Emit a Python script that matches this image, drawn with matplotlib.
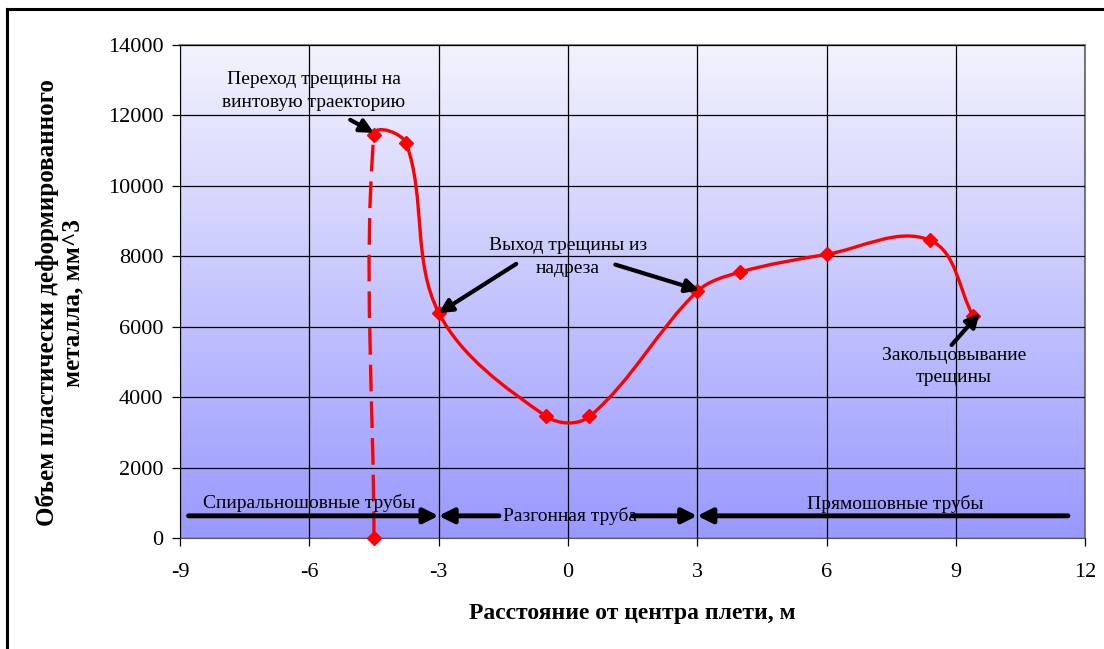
import numpy as np
import matplotlib
matplotlib.use("Agg")
import matplotlib.pyplot as plt
from matplotlib.path import Path
from matplotlib.patches import PathPatch
from matplotlib.colors import LinearSegmentedColormap

plt.rcParams["font.family"] = ["Liberation Serif", "DejaVu Serif"]
plt.rcParams["axes.unicode_minus"] = False

# ── data ──────────────────────────────────────────────────────────────────────
x_pts = [-4.5, -4.5, -3.75, -3.0, -0.5, 0.5, 3.0, 4.0, 6.0, 8.4, 9.4]
y_pts = [0, 11450, 11200, 6400, 3450, 3450, 7000, 7550, 8050, 8450, 6300]

zones = ["Спиральношовные трубы", "Разгонная труба", "Прямошовные трубы"]
zone_bounds = [-3.0, 3.0]
zone_y = 630

notes = ["Переход трещины на\nвинтовую траекторию",
         "Выход трещины из\nнадреза",
         "Закольцовывание\nтрещины"]

RED = "#FF0000"


def smooth_segments(ax, xs, ys):
    # Excel-like smoothed line: cubic Bezier pieces, tangent along (next - prev),
    # control distance = 1/3 of the segment length, worked out in screen space
    tr = ax.transData
    pts = tr.transform(np.column_stack([xs, ys]).astype(float))
    n = len(pts)

    def tangent(i):
        d = pts[min(i + 1, n - 1)] - pts[max(i - 1, 0)]
        nrm = np.hypot(*d)
        return d / nrm if nrm else d

    segs = []
    for i in range(n - 1):
        p1, p2 = pts[i], pts[i + 1]
        L = np.hypot(*(p2 - p1)) / 3.0
        c1 = p1 + tangent(i) * L
        c2 = p2 - tangent(i + 1) * L
        verts = tr.inverted().transform(np.array([p1, c1, c2, p2]))
        segs.append(Path(verts, [Path.MOVETO, Path.CURVE4, Path.CURVE4, Path.CURVE4]))
    return segs


fig = plt.figure(figsize=(11.04, 6.49), dpi=100)
ax = fig.add_axes([0.163, 0.171, 0.820, 0.760])

# gradient plot area
cmap = LinearSegmentedColormap.from_list("bg", ["#9999FF", "#F3F3FD"])
grad = np.linspace(0, 1, 256).reshape(-1, 1)
ax.imshow(grad, cmap=cmap, aspect="auto", origin="lower",
          extent=[0, 1, 0, 1], transform=ax.transAxes, zorder=0)

ax.set_xlim(-9, 12)
ax.set_ylim(0, 14000)
ax.set_xticks(np.arange(-9, 13, 3))
ax.set_yticks(np.arange(0, 14001, 2000))
ax.grid(True, color="black", linewidth=0.9, zorder=1)
ax.set_axisbelow(False)
ax.tick_params(labelsize=16, length=6, width=0.9, direction="out")
ax.tick_params(axis="x", pad=12)
ax.tick_params(axis="y", pad=6)
for s in ["top", "right"]:
    ax.spines[s].set_color("#808080")
    ax.spines[s].set_linewidth(1.5)
for s in ["left", "bottom"]:
    ax.spines[s].set_color("#555555")

fig.text(632 / 1104, 1 - 613 / 649, "Расстояние от центра плети, м", fontsize=17,
         fontweight="bold", ha="center", va="center")
fig.text(60 / 1104, 1 - 303 / 649, "Объем пластически деформированного\nметалла, мм^3",
         fontsize=18, fontweight="bold", ha="center", va="center", rotation=90,
         linespacing=1.1)

# smoothed curve, first segment dashed
for i, seg in enumerate(smooth_segments(ax, x_pts, y_pts)):
    ax.add_patch(PathPatch(seg, facecolor="none", edgecolor=RED, lw=2.4,
                           linestyle=(0, (8, 3)) if i == 0 else "-",
                           zorder=4, clip_on=False))
ax.plot(x_pts, y_pts, linestyle="none", marker="D", markersize=7,
        color=RED, zorder=5, clip_on=False)

# zone arrows
aprops = dict(arrowstyle="-|>", color="black", lw=3.5, mutation_scale=22,
              shrinkA=0, shrinkB=0)
ax.annotate("", xy=(zone_bounds[0], zone_y), xytext=(-8.8, zone_y), arrowprops=aprops, zorder=6)
ax.annotate("", xy=(zone_bounds[0], zone_y), xytext=(-1.6, zone_y), arrowprops=aprops, zorder=6)
ax.annotate("", xy=(zone_bounds[1], zone_y), xytext=(1.5, zone_y), arrowprops=aprops, zorder=6)
ax.annotate("", xy=(zone_bounds[1], zone_y), xytext=(11.6, zone_y), arrowprops=aprops, zorder=6)
ax.text(-6.0, 1000, zones[0], fontsize=14, ha="center", va="center", zorder=7)
ax.text(0.05, 630, zones[1], fontsize=14, ha="center", va="center", zorder=7)
ax.text(7.6, 960, zones[2], fontsize=14, ha="center", va="center", zorder=7)

# callouts
nprops = dict(arrowstyle="-|>", color="black", lw=3, mutation_scale=20,
              shrinkA=0, shrinkB=0)
ax.text(-5.9, 12700, notes[0], fontsize=14, ha="center", va="center",
        linespacing=1.45, zorder=7)
ax.annotate("", xy=(-4.5, 11500), xytext=(-5.05, 11870), arrowprops=nprops, zorder=6)
ax.text(0.0, 7980, notes[1], fontsize=14, ha="center", va="center",
        linespacing=1.45, zorder=7)
ax.annotate("", xy=(-3.0, 6380), xytext=(-1.2, 7780), arrowprops=nprops, zorder=6)
ax.annotate("", xy=(3.05, 7030), xytext=(1.1, 7760), arrowprops=nprops, zorder=6)
ax.text(8.95, 4870, notes[2], fontsize=14, ha="center", va="center",
        linespacing=1.45, zorder=7)
ax.annotate("", xy=(9.55, 6380), xytext=(8.9, 5480), arrowprops=nprops, zorder=6)

# chart frame
fig.add_artist(plt.Line2D([0.0065, 0.0065], [0.0, 0.986], transform=fig.transFigure,
                          color="black", lw=2.2))
fig.add_artist(plt.Line2D([0.0065, 1.0], [0.986, 0.986], transform=fig.transFigure,
                          color="black", lw=2.2))

fig.savefig("out.png", dpi=100)
